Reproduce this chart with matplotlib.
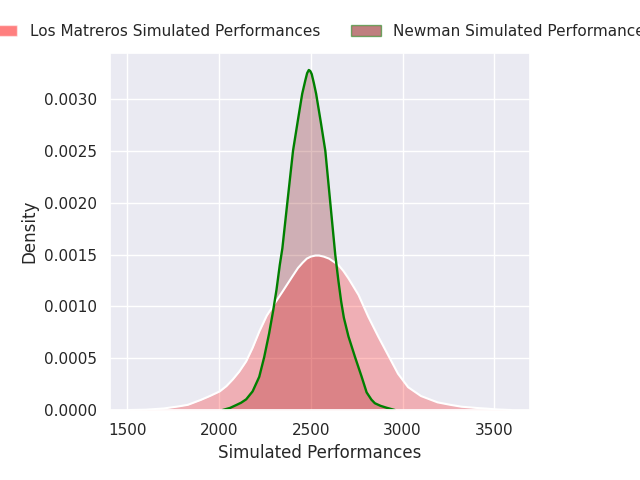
import matplotlib
matplotlib.use("Agg")
import matplotlib.pyplot as plt
import seaborn as sns
from matplotlib.patches import Patch

sns.set_theme(style="darkgrid")
plt.rcParams['font.family'] = ['DejaVu Sans']

# Los Matreros KDE (x, density)
lm_x = [1510, 1600, 1700, 1780, 1830, 1900, 1950, 2004, 2040, 2075, 2110, 2148, 2183,
        2220, 2260, 2300, 2345, 2400, 2430, 2455, 2478, 2500, 2525, 2545, 2570, 2600,
        2625, 2650, 2678, 2705, 2760, 2813, 2867, 2921, 2975, 3030, 3100, 3190, 3260,
        3320, 3400, 3460, 3520, 3590]
lm_y = [0.0, 0.000003, 0.000015, 0.000035, 0.00005, 0.000097, 0.000135, 0.00018,
        0.00023, 0.000295, 0.00037, 0.00047, 0.0006, 0.00076, 0.00091, 0.00102,
        0.00114, 0.00129, 0.00137, 0.00142, 0.00146, 0.00148, 0.00149, 0.00149,
        0.00148, 0.00146, 0.00143, 0.0014, 0.00134, 0.00127, 0.00111, 0.0009,
        0.00071, 0.00053, 0.00035, 0.00022, 0.000135, 0.000074, 0.00005, 0.000032,
        0.00002, 0.000013, 0.000005, 0.0]

# Newman KDE (x, density)
nw_x = [2020, 2060, 2094, 2120, 2148, 2183, 2219, 2246, 2273, 2295, 2313, 2331, 2345,
        2372, 2403, 2430, 2453, 2470, 2480, 2489, 2497, 2505, 2517, 2529, 2555, 2579,
        2606, 2633, 2650, 2665, 2680, 2705, 2741, 2777, 2804, 2830, 2849, 2880, 2912,
        2957]
nw_y = [0.0, 0.00002, 0.000048, 0.00007, 0.000103, 0.00018, 0.00032, 0.00051, 0.00074,
        0.00096, 0.00116, 0.0014, 0.00156, 0.002, 0.0025, 0.0028, 0.00305, 0.00318,
        0.00325, 0.00328, 0.00327, 0.00324, 0.00315, 0.00305, 0.00277, 0.0025, 0.002,
        0.0015, 0.00125, 0.00105, 0.00089, 0.00071, 0.00051, 0.00032, 0.00017,
        0.0001, 0.000065, 0.00004, 0.000022, 0.0]

labels = ["Los Matreros Simulated Performances", "Newman Simulated Performances"]

fig = plt.figure(figsize=(6.4, 4.8), dpi=100)
ax = fig.add_axes([110/640, 70/480, 420/640, 357/480])

ax.fill_between(nw_x, nw_y, 0, color="maroon", alpha=0.25, linewidth=0)
ax.fill_between(lm_x, lm_y, 0, color="red", alpha=0.25, linewidth=0)
ax.plot(lm_x, lm_y, color="white", lw=1.5)
ax.plot(nw_x, nw_y, color="green", lw=1.7)

ax.set_ylim(0, None)
ax.set_xlabel("Simulated Performances")
ax.set_ylabel("Density")
ax.set_xticks([1500, 2000, 2500, 3000, 3500])
ax.set_yticks([0, 0.0005, 0.001, 0.0015, 0.002, 0.0025, 0.003])
ax.set_yticklabels(["0.0000", "0.0005", "0.0010", "0.0015", "0.0020", "0.0025", "0.0030"])

handles = [Patch(facecolor="red", alpha=0.5, edgecolor="white"),
           Patch(facecolor="maroon", alpha=0.5, edgecolor="green")]
fig.legend(handles, labels, loc="center", bbox_to_anchor=(0.5, 1 - 31/480),
           ncol=2, frameon=False)

fig.savefig("out.png", dpi=100)
